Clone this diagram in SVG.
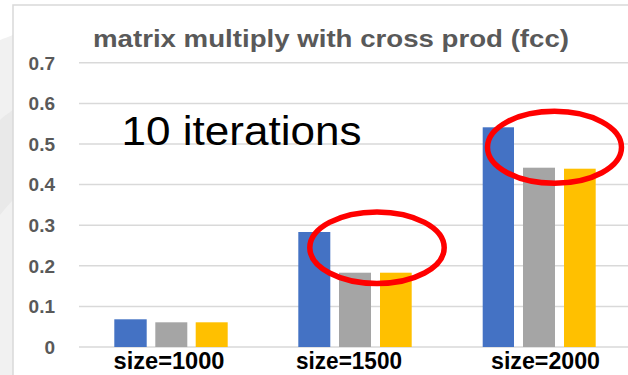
<svg xmlns="http://www.w3.org/2000/svg" width="628" height="375" viewBox="0 0 628 375">
<style>
.grid{stroke:#d9d9d9;stroke-width:1.5;fill:none}
.ylab{font-family:"Liberation Sans",Arial,sans-serif;font-weight:bold;font-size:19px;fill:#595959;text-anchor:end}
.xlab{font-family:"Liberation Sans",Arial,sans-serif;font-weight:bold;font-size:23px;fill:#000;text-anchor:middle}
.blue{fill:#4472c4}
.gray{fill:#a5a5a5}
.yellow{fill:#ffc000}
.ring{fill:none;stroke:#ff0000;stroke-width:5.5}
</style>
<rect x="0" y="0" width="628" height="375" fill="#ffffff"/>
<path d="M0,40 C5,38 10,36 13,35 L13,375 L0,375 Z" fill="#f1f1f1"/>
<path d="M0,120 C5,115 10,112 13,110 L13,200 C8,205 4,210 0,215 Z" fill="#e9e9e9"/>
<rect x="13" y="5" width="640" height="400" fill="#ffffff" stroke="#d9d9d9" stroke-width="1.5"/>
<g id="gridlines">
<line class="grid" x1="79" y1="62.8" x2="628" y2="62.8"/>
<line class="grid" x1="79" y1="103.4" x2="628" y2="103.4"/>
<line class="grid" x1="79" y1="144" x2="628" y2="144"/>
<line class="grid" x1="79" y1="184.6" x2="628" y2="184.6"/>
<line class="grid" x1="79" y1="225.2" x2="628" y2="225.2"/>
<line class="grid" x1="79" y1="265.8" x2="628" y2="265.8"/>
<line class="grid" x1="79" y1="306.4" x2="628" y2="306.4"/>
<line class="grid" x1="79" y1="347" x2="628" y2="347"/>
</g>
<g id="title"><text x="93" y="47" font-family="'Liberation Sans',Arial,sans-serif" font-weight="bold" font-size="24" fill="#595959" textLength="476" lengthAdjust="spacingAndGlyphs">matrix multiply with cross prod (fcc)</text></g>
<g id="yaxis">
<text class="ylab" x="55" y="69.5">0.7</text>
<text class="ylab" x="55" y="110.1">0.6</text>
<text class="ylab" x="55" y="150.7">0.5</text>
<text class="ylab" x="55" y="191.3">0.4</text>
<text class="ylab" x="55" y="231.9">0.3</text>
<text class="ylab" x="55" y="272.5">0.2</text>
<text class="ylab" x="55" y="313.1">0.1</text>
<text class="ylab" x="55" y="353.7">0</text>
</g>
<g id="bars-1000">
<rect class="blue" x="114.3" y="319.3" width="32.4" height="27.7"/>
<rect class="gray" x="155.3" y="322.3" width="32" height="24.7"/>
<rect class="yellow" x="195.7" y="322.3" width="32" height="24.7"/>
</g>
<g id="bars-1500">
<rect class="blue" x="298.3" y="232" width="32" height="115"/>
<rect class="gray" x="339" y="272.7" width="32" height="74.3"/>
<rect class="yellow" x="380" y="272.7" width="31.7" height="74.3"/>
</g>
<g id="bars-2000">
<rect class="blue" x="482.7" y="127.3" width="31.3" height="219.7"/>
<rect class="gray" x="523" y="167.7" width="32" height="179.3"/>
<rect class="yellow" x="564" y="168.7" width="31.7" height="178.3"/>
</g>
<g id="xaxis">
<text class="xlab" x="169" y="369" textLength="111" lengthAdjust="spacingAndGlyphs">size=1000</text>
<text class="xlab" x="349" y="369" textLength="106" lengthAdjust="spacingAndGlyphs">size=1500</text>
<text class="xlab" x="545.5" y="369" textLength="109" lengthAdjust="spacingAndGlyphs">size=2000</text>
</g>
<g id="note"><text x="121.5" y="145" font-family="'Liberation Sans',Arial,sans-serif" font-size="41" fill="#000" textLength="240" lengthAdjust="spacingAndGlyphs">10 iterations</text></g>
<g id="highlight-1500"><ellipse class="ring" cx="377" cy="247.7" rx="67.2" ry="35.8"/></g>
<g id="highlight-2000"><ellipse class="ring" cx="554.5" cy="147.3" rx="67" ry="36"/></g>
</svg>
